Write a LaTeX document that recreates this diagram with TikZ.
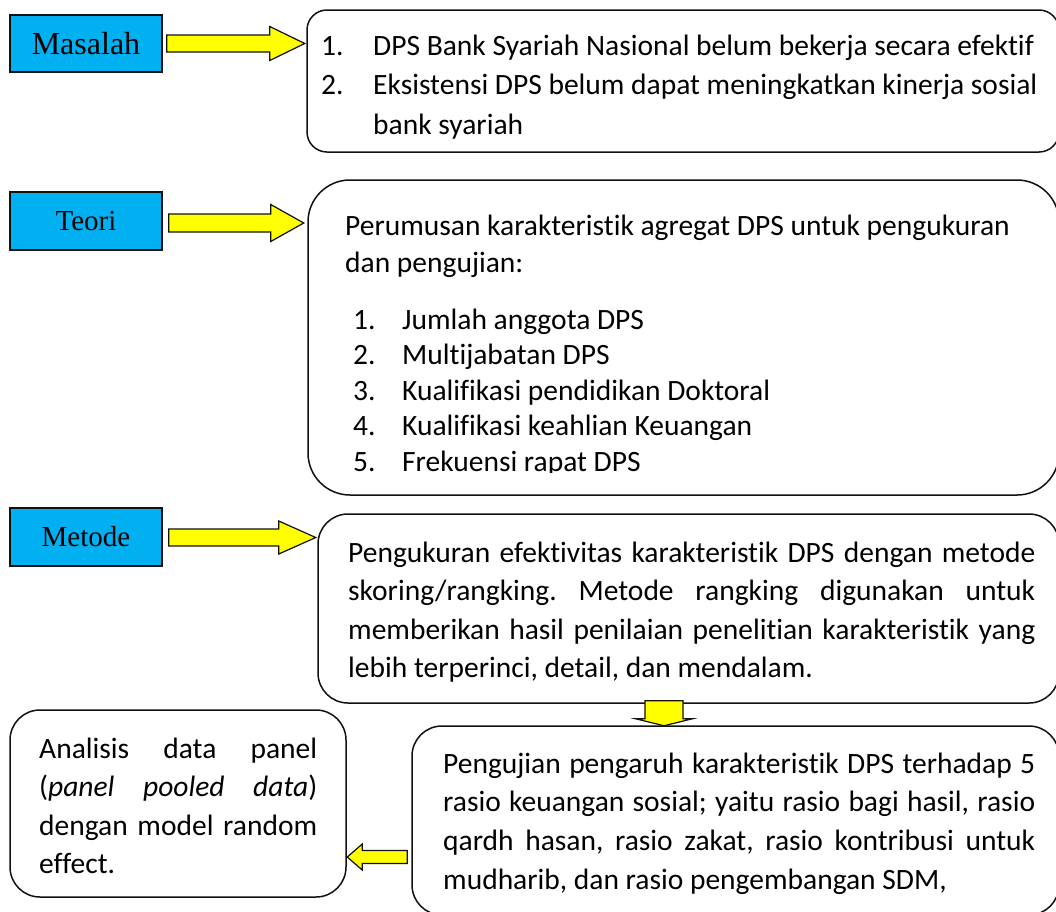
\documentclass[tikz,border=0pt]{standalone}
\usepackage{fontspec}
\setmainfont{Carlito}[Ligatures=NoCommon]
\newfontfamily\labelfont{Liberation Serif}
\usepackage{xcolor}
\usetikzlibrary{calc,positioning}
\definecolor{lblblue}{HTML}{00B0F0}
\definecolor{arryellow}{HTML}{FFFF00}
\definecolor{frameink}{HTML}{111111}
\frenchspacing

\begin{document}
\begin{tikzpicture}[x=1pt,y=-1pt,
    labelbox/.style={draw=frameink,line width=1.5pt,fill=lblblue,minimum width=152pt,minimum height=57pt,inner sep=0pt},
    roundbox/.style={draw=frameink,line width=1.5pt,fill=white,inner sep=0pt},
    bodytext/.style={anchor=base west,inner sep=0pt},
    yelarrow/.style={draw=frameink,line width=1.2pt,fill=arryellow,line join=miter}]
    \clip (0,0) rectangle (1056,911);
    % left labels
    \node[labelbox,font=\labelfont\fontsize{32pt}{36pt}\selectfont] (mas) at (86,43.5) {Masalah};
    \node[labelbox,font=\labelfont\fontsize{29pt}{34pt}\selectfont,minimum height=58pt] (teo) at (86,221) {Teori};
    \node[labelbox,font=\labelfont\fontsize{29pt}{34pt}\selectfont,minimum height=58pt] (met) at (86,537) {Metode};
    % frames
    \node[roundbox,rounded corners=20pt,minimum width=752pt,minimum height=142pt] (box1) at (683,81) {};
    \node[roundbox,rounded corners=42pt,minimum width=751pt,minimum height=315pt] (box2) at (683.5,337.5) {};
    \node[roundbox,rounded corners=30pt,minimum width=741pt,minimum height=189pt] (box3) at (688.5,608.5) {};
    \node[roundbox,rounded corners=30pt,minimum width=647pt,minimum height=189pt] (box4) at (735.5,820.5) {};
    \node[roundbox,rounded corners=30pt,minimum width=336pt,minimum height=187pt] (box5) at (178,803.5) {};
    % texts (align=left nodes sit on their last baseline)
    \node[bodytext,align=left,font=\fontsize{29.5pt}{39.5pt}\selectfont] (masalahtxt) at (321,134)
      {\makebox[52pt][l]{1.}DPS Bank Syariah Nasional belum bekerja secara efektif\\
       \makebox[52pt][l]{2.}Eksistensi DPS belum dapat meningkatkan kinerja sosial\\
       \hspace*{52pt}bank syariah};
    \node[bodytext,align=left,font=\fontsize{29.5pt}{36.5pt}\selectfont] (teoritxt) at (345,272)
      {Perumusan karakteristik agregat DPS untuk pengukuran\\dan pengujian:};
    \begin{scope}
      \clip ($(box2.north west)$) rectangle ($(box2.south east)+(0,-23)$);
      \node[bodytext,align=left,font=\fontsize{29.5pt}{35.5pt}\selectfont] (teorilist) at (353,471)
        {\makebox[49pt][l]{1.}Jumlah anggota DPS\\
         \makebox[49pt][l]{2.}Multijabatan DPS\\
         \makebox[49pt][l]{3.}Kualifikasi pendidikan Doktoral\\
         \makebox[49pt][l]{4.}Kualifikasi keahlian Keuangan\\
         \makebox[49pt][l]{5.}Frekuensi rapat DPS};
    \end{scope}
    \node[bodytext,align=justify,text width=687pt,font=\fontsize{29.5pt}{38.5pt}\selectfont] (metodetxt) at (348,562)
      {Pengukuran efektivitas karakteristik DPS dengan metode\linebreak
       skoring/rangking. Metode rangking digunakan untuk\linebreak
       memberikan hasil penilaian penelitian karakteristik yang\linebreak
       lebih terperinci, detail, dan mendalam.};
    \node[bodytext,align=justify,text width=592pt,font=\fontsize{29.5pt}{38.7pt}\selectfont] (ujitxt) at (443,773)
      {Pengujian pengaruh karakteristik DPS terhadap 5\linebreak
       rasio keuangan sosial; yaitu rasio bagi hasil, rasio\linebreak
       qardh hasan, rasio zakat, rasio kontribusi untuk\linebreak
       mudharib, dan rasio pengembangan SDM,};
    \node[bodytext,align=justify,text width=278pt,font=\fontsize{29.5pt}{38.5pt}\selectfont] (analisistxt) at (39,758)
      {Analisis data panel\linebreak
       (\textit{panel pooled data})\linebreak
       dengan model random\linebreak
       effect.};
    % block arrows
    \draw[yelarrow] ($(mas.east)+(4,0)$) ++(0,-8.5) -- ++(103,0) -- ++(0,-8.5) -- ++(35,17)
      -- ++(-35,17) -- ++(0,-8.5) -- ++(-103,0) -- cycle;
    \draw[yelarrow] ($(teo.east)+(6,2)$) ++(0,-9) -- ++(102,0) -- ++(0,-9.5) -- ++(33,18.5)
      -- ++(-33,18.5) -- ++(0,-9.5) -- ++(-102,0) -- cycle;
    \draw[yelarrow] ($(met.east)+(6,0.5)$) ++(0,-8.5) -- ++(110,0) -- ++(0,-8) -- ++(37,16.5)
      -- ++(-37,16.5) -- ++(0,-8) -- ++(-110,0) -- cycle;
    \draw[yelarrow] ($(box3.south)+(-24.5,-3)$) ++(-19,0) -- ++(0,18) -- ++(-9.5,0) -- ++(28.5,7)
      -- ++(28.5,-7) -- ++(-9.5,0) -- ++(0,-18) -- cycle;
    \draw[yelarrow] ($(box4.west)+(-4,36.5)$) ++(0,-6.5) -- ++(-45,0) -- ++(0,-6.5) -- ++(-15,13)
      -- ++(15,13) -- ++(0,-6.5) -- ++(45,0) -- cycle;
\end{tikzpicture}
\end{document}
